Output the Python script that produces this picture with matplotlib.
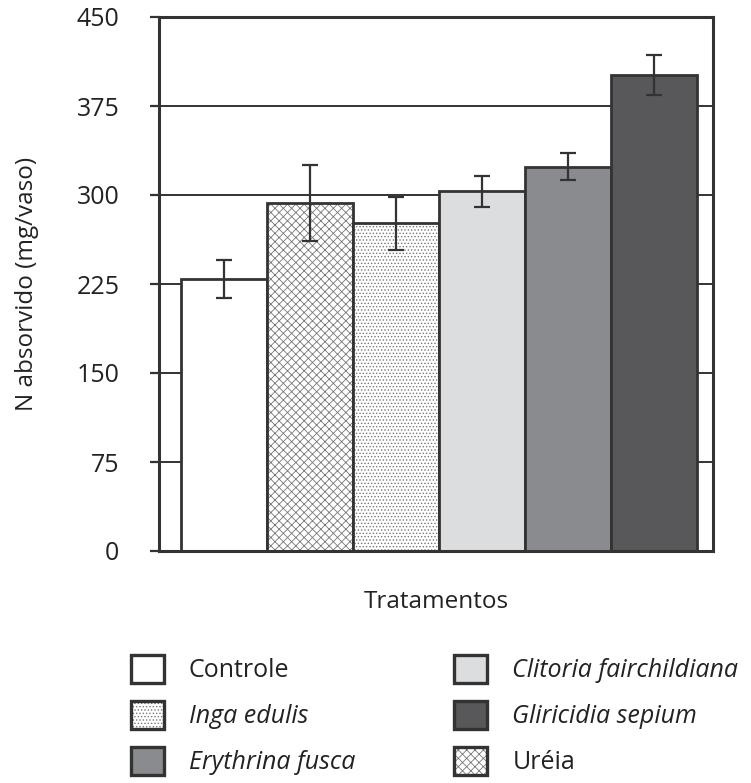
import matplotlib
matplotlib.use('Agg')
import numpy as np
import matplotlib.pyplot as plt
import matplotlib.patches as mpatches
import matplotlib.colors as mcolors

# data
treatments = ['Controle', 'Uréia', 'Inga edulis', 'Clitoria fairchildiana',
              'Erythrina fusca', 'Gliricidia sepium']
n_absorbed = [229, 293, 276, 303, 324, 401]
err = [16, 32, 22, 13, 11, 17]

face = ['white', 'white', 'white', '#dcdddf', '#8a8b8e', '#58585a']
hatch = ['', 'xxxx', '.....', '', '', '']
italic = [False, False, True, True, True, True]
legend_order = [0, 2, 4, 3, 5, 1]

plt.rcParams['font.family'] = ['Open Sans', 'DejaVu Sans']
plt.rcParams['hatch.linewidth'] = 0.6
dark = '#333333'
txt = '#222222'

fig = plt.figure(figsize=(7.51, 7.83), dpi=100)
ax = fig.add_axes([159 / 751, 1 - 551 / 783, (713 - 159) / 751, (551 - 17) / 783])

x = np.arange(len(treatments))
bars = ax.bar(x, n_absorbed, width=1.0, color=face, edgecolor=dark, linewidth=2, zorder=2)
for b, h in zip(bars, hatch):
    if h:
        b.set_hatch(h)
        b._hatch_color = mcolors.to_rgba('#777777')
ax.errorbar(x, n_absorbed, yerr=err, fmt='none', ecolor=dark, elinewidth=1.6,
            capsize=6, capthick=1.6, zorder=3)

ax.set_xlim(-0.756, 5.686)
ax.set_ylim(0, 450)
ax.set_yticks(np.arange(0, 451, 75))
ax.set_xticks([])
ax.yaxis.grid(True, color=dark, linewidth=1.4)
ax.set_axisbelow(True)
for s in ax.spines.values():
    s.set_linewidth(2.2)
    s.set_color(dark)
ax.tick_params(axis='y', length=6.5, width=1.6, color=dark, pad=22, labelsize=18, labelcolor=txt)
ax.set_ylabel('N absorvido (mg/vaso)', fontsize=17.5, color=txt, labelpad=27)
ax.set_xlabel('Tratamentos', fontsize=17.5, color=txt, labelpad=28)

handles = []
labels = []
for i in legend_order:
    p = mpatches.Patch(facecolor=face[i], edgecolor=dark, linewidth=2.4, hatch=hatch[i] or None)
    if hatch[i]:
        p._hatch_color = mcolors.to_rgba('#777777')
    handles.append(p)
    labels.append(treatments[i])
leg = fig.legend(handles, labels, ncol=2, loc='upper left', bbox_to_anchor=(131 / 751, 1 - 655 / 783),
                 frameon=False, fontsize=18, handlelength=1.32, handleheight=1.32,
                 handletextpad=1.0, labelspacing=0.72, columnspacing=3.96, borderaxespad=0,
                 borderpad=0)
for t, i in zip(leg.get_texts(), legend_order):
    t.set_color(txt)
    if italic[i]:
        t.set_fontstyle('italic')

fig.savefig('out.png', dpi=100)
